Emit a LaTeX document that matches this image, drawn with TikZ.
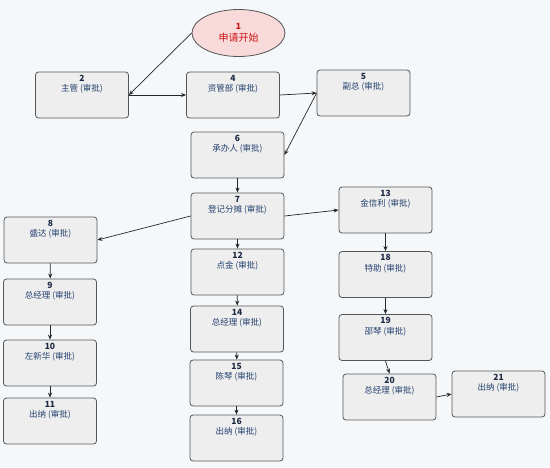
\documentclass[tikz,border=0pt]{standalone}
\usepackage{fontspec}
\setmainfont{Noto Sans CJK SC}
\usetikzlibrary{arrows.meta,shapes.geometric}
\definecolor{bg}{HTML}{F5F8FB}
\definecolor{boxfill}{HTML}{EEEEEE}
\definecolor{boxdraw}{HTML}{555555}
\definecolor{txt}{HTML}{22406E}
\definecolor{numc}{HTML}{1E2A44}
\definecolor{startfill}{HTML}{F8DADA}
\definecolor{starttxt}{HTML}{CC1111}
\newcommand{\bxtext}[2]{\begin{minipage}[t][40pt][t]{85pt}\centering\vspace{0pt}\fontsize{8.5}{10.5}\selectfont{\bfseries\color{numc}#1}\\{\color{txt}#2}\end{minipage}}
\tikzset{
  stepbox/.style={draw=boxdraw, line width=0.8pt, fill=boxfill, rounded corners=3pt,
    minimum width=93pt, minimum height=46pt, inner sep=0pt, align=center},
  startnode/.style={ellipse, draw=boxdraw, line width=0.8pt, fill=startfill,
    minimum width=93pt, minimum height=47pt, inner sep=0pt, align=center},
  conn/.style={draw=black!85, line width=0.7pt, -{Stealth[length=5pt,width=4pt]}}
}
\begin{document}
\begin{tikzpicture}[x=1pt,y=-1pt]
\fill[bg] (0,0) rectangle (550,467);
\useasboundingbox (0,0) rectangle (550,467);
\node[startnode] (n1) at (238.5,33) {\fontsize{8.5}{10.5}\selectfont{\bfseries\color{starttxt}1}\\{\color{starttxt}申请开始}};
\node[stepbox] (n2) at (82,95) {\bxtext{2}{主管 (审批)}};
\node[stepbox] (n4) at (233,95) {\bxtext{4}{资管部 (审批)}};
\node[stepbox] (n5) at (363.5,93) {\bxtext{5}{副总 (审批)}};
\node[stepbox] (n6) at (237.5,155) {\bxtext{6}{承办人 (审批)}};
\node[stepbox] (n7) at (237.5,216) {\bxtext{7}{登记分摊 (审批)}};
\node[stepbox] (n8) at (50.5,240) {\bxtext{8}{盛达 (审批)}};
\node[stepbox] (n9) at (50,302) {\bxtext{9}{总经理 (审批)}};
\node[stepbox] (n10) at (50,363) {\bxtext{10}{左新华 (审批)}};
\node[stepbox] (n11) at (50,421) {\bxtext{11}{出纳 (审批)}};
\node[stepbox] (n12) at (237.5,272) {\bxtext{12}{点金 (审批)}};
\node[stepbox] (n14) at (237,329) {\bxtext{14}{总经理 (审批)}};
\node[stepbox] (n15) at (236.5,383) {\bxtext{15}{陈琴 (审批)}};
\node[stepbox] (n16) at (236.5,438) {\bxtext{16}{出纳 (审批)}};
\node[stepbox] (n13) at (385.5,210) {\bxtext{13}{金信利 (审批)}};
\node[stepbox] (n18) at (385.5,274.5) {\bxtext{18}{特助 (审批)}};
\node[stepbox] (n19) at (385.5,337.5) {\bxtext{19}{邵琴 (审批)}};
\node[stepbox] (n20) at (389.5,397) {\bxtext{20}{总经理 (审批)}};
\node[stepbox] (n21) at (498.5,394) {\bxtext{21}{出纳 (审批)}};
\draw[conn] (n1.west) -- (n2.east);
\draw[conn] (n2.east) -- (n4.west);
\draw[conn] (n4.east) -- (n5.west);
\draw[conn] (n5.west) -- (n6.east);
\draw[conn] (n6) -- (n7);
\draw[conn] (n7.west) -- (n8.east);
\draw[conn] (n7.east) -- (n13.west);
\draw[conn] (n7) -- (n12);
\draw[conn] (n12) -- (n14);
\draw[conn] (n14) -- (n15);
\draw[conn] (n15) -- (n16);
\draw[conn] (n8) -- (n9);
\draw[conn] (n9) -- (n10);
\draw[conn] (n10) -- (n11);
\draw[conn] (n13) -- (n18);
\draw[conn] (n18) -- (n19);
\draw[conn] (n19.south) -- (n20.north);
\draw[conn] (n20.east) -- (n21.west);
\end{tikzpicture}
\end{document}
